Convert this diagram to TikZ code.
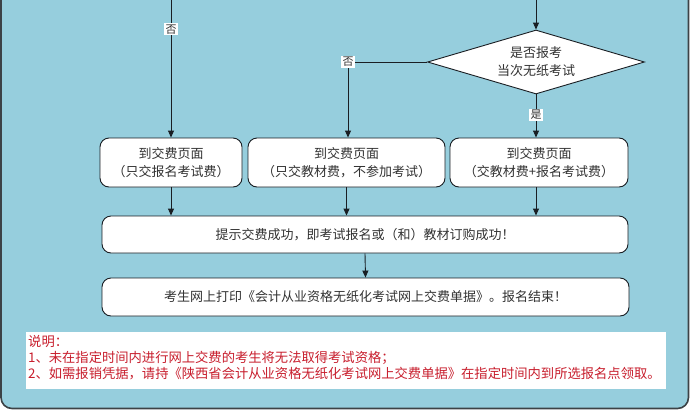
\documentclass[tikz,border=0pt]{standalone}
\usepackage{fontspec}
\newfontfamily\cjk{Noto Sans CJK SC}
\usetikzlibrary{shapes.geometric,arrows.meta}
\definecolor{bgblue}{RGB}{150,206,221}
\definecolor{frame}{RGB}{60,66,70}
\definecolor{linec}{RGB}{25,30,35}
\definecolor{txt}{RGB}{50,50,50}
\definecolor{notered}{RGB}{200,30,45}
\tikzset{
  base/.style={font=\cjk\fontsize{13}{18}\selectfont, text=txt},
  box/.style={base, draw=linec, line width=0.9pt, fill=white, rounded corners=9pt, align=center, inner sep=0pt},
  decision/.style={base, diamond, aspect=3.4, draw=linec, line width=0.9pt, fill=white, align=center, inner sep=0pt, minimum width=217pt, minimum height=64pt},
  arr/.style={draw=linec, line width=0.9pt, -{Triangle[length=7pt,width=6pt]}},
  lbl/.style={font=\cjk\fontsize{11}{12}\selectfont, text=txt, fill=white, inner sep=1.2pt},
}
\begin{document}
\begin{tikzpicture}[x=1pt,y=-1pt]
\useasboundingbox (0,0) rectangle (690,410);
\clip (0,0) rectangle (690,410);
\draw[fill=bgblue, draw=frame, line width=1.6pt, rounded corners=11pt] (1,-30) rectangle (688.5,408.5);

\node[decision] (d) at (536,62) {是否报考\\当次无纸考试};
\node[box, minimum width=142pt, minimum height=49pt] (b1) at (171,162.5) {到交费页面\\（只交报名考试费）};
\node[box, minimum width=197pt, minimum height=49pt] (b2) at (346.5,162.5) {到交费页面\\（只交教材费，不参加考试）};
\node[box, minimum width=178pt, minimum height=49pt] (b3) at (539,162.5) {到交费页面\\（交教材费+报名考试费）};
\node[box, minimum width=526pt, minimum height=37pt] (b4) at (365,234.5) {提示交费成功，即考试报名或（和）教材订购成功！};
\node[box, minimum width=527pt, minimum height=38pt] (b5) at (365.5,297) {考生网上打印《会计从业资格无纸化考试网上交费单据》。报名结束！};

\coordinate (t1) at (171,-5);
\coordinate (t2) at (536,-5);
\coordinate (c2) at (348,62);

\draw[arr] (t1) -- (b1.north) node[lbl, pos=0.24] {否};
\draw[arr] (t2) -- (d.north);
\draw[arr] (d.west) -- (c2) -- (c2 |- b2.north);
\node[lbl] (n2) at (c2) {否};
\draw[arr] (d.south) -- (d.south |- b3.north) node[lbl, pos=0.47] {是};

\draw[arr] (b1.south) -- (b1.south |- b4.north);
\draw[arr] (b2.south) -- (b2.south |- b4.north);
\draw[arr] (b3.south -| d.south) -- (d.south |- b4.north);
\draw[arr] (b4.south) -- (b5.north);

\node[fill=white, minimum width=640pt, minimum height=57pt, inner sep=0pt] (nb) at (346,360.5) {};
\node[anchor=north west, align=left, inner sep=0pt, font=\cjk\fontsize{13.3}{16}\selectfont, text=notered] (nt) at (28,335)
{说明：\\1、未在指定时间内进行网上交费的考生将无法取得考试资格；\\2、如需报销凭据，请持《陕西省会计从业资格无纸化考试网上交费单据》在指定时间内到所选报名点领取。};
\end{tikzpicture}
\end{document}
